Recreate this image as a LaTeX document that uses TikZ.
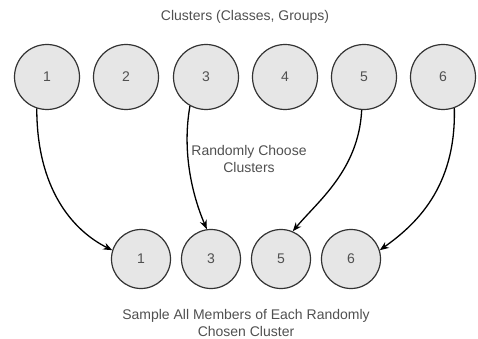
\documentclass[tikz,border=0pt]{standalone}
\usepackage{fontspec}
\setmainfont{Liberation Sans}
\usetikzlibrary{arrows.meta}
\definecolor{txtgray}{HTML}{505050}
\definecolor{circfill}{HTML}{E6E6E6}
\definecolor{circline}{HTML}{333333}
\begin{document}
\begin{tikzpicture}[x=1pt,y=-1pt,
  topc/.style={circle,draw=circline,fill=circfill,line width=1.2pt,minimum size=65pt,inner sep=0pt,text=txtgray,font=\fontsize{14}{16}\selectfont},
  botc/.style={topc,minimum size=59pt},
  lbl/.style={text=txtgray,font=\fontsize{14}{17}\selectfont,align=center},
  arr/.style={line width=1.3pt,draw=black,-{Stealth[length=9pt,width=7pt]}}]
\useasboundingbox (0,0) rectangle (478,339);
\node[lbl] (title) at (245,17) {Clusters (Classes, Groups)};
\node[topc] (t1) at (47,77) {1};
\node[topc] (t2) at (126,77) {2};
\node[topc] (t3) at (206,77) {3};
\node[topc] (t4) at (285,77) {4};
\node[topc] (t5) at (364,77) {5};
\node[topc] (t6) at (443,77) {6};
\node[botc] (b1) at (141,259) {1};
\node[botc] (b3) at (211,259) {3};
\node[botc] (b5) at (281,259) {5};
\node[botc] (b6) at (351,259) {6};
\node[lbl] (mid) at (249,159) {Randomly Choose\\Clusters};
\node[lbl] (bottom) at (246,323) {Sample All Members of Each Randomly\\Chosen Cluster};
\draw[arr] (t1.252) .. controls +(0,80) and +(-40,-20) .. (b1.163);
\draw[arr] (t3.241) .. controls +(-8,45) and +(-15,-35) .. (b3.98);
\draw[arr] (t5.266) .. controls +(-3,60) and +(25,-30) .. (b5.67);
\draw[arr] (t6.290) .. controls +(2,80) and +(35,-25) .. (b6.17);
\end{tikzpicture}
\end{document}
